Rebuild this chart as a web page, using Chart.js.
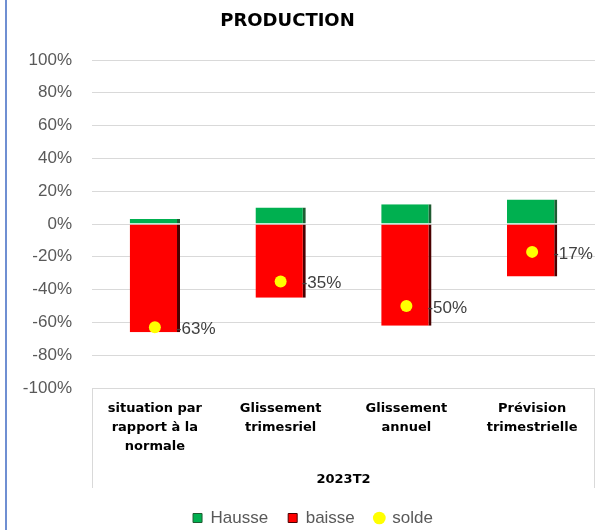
<!DOCTYPE html>
<html>
<head>
<meta charset="utf-8">
<script src="https://cdn.jsdelivr.net/npm/chart.js@4.4.1/dist/chart.umd.min.js"></script>
<style>
  html, body { margin: 0; padding: 0; background: #ffffff; }
  #wrap { position: relative; width: 601px; height: 530px; }
  #edge { position: absolute; left: 5px; top: 0; width: 1.5px; height: 530px; background: #6f8fd2; }
  canvas { position: absolute; left: 0; top: 0; }
</style>
</head>
<body>
<div id="wrap">
  <canvas id="c" width="601" height="530"></canvas>
  <div id="edge"></div>
</div>
<script>
const chartTitle = "PRODUCTION";
const axisTitle = "2023T2";
const categories = [
  ["situation par", "rapport à la", "normale"],
  ["Glissement", "trimesriel"],
  ["Glissement", "annuel"],
  ["Prévision", "trimestrielle"]
];
const seriesNames = ["Hausse", "baisse", "solde"];
const hausse = [3, 10, 12, 15];
const baisse = [-66, -45, -62, -32];
const solde = [-63, -35, -50, -17];
const yTicksMin = -100;
const yTicksMax = 100;
const yTicksStep = 20;

const titlePlugin = {
  id: 'customTitle',
  afterDraw(chart) {
    const ctx = chart.ctx;
    ctx.save();
    ctx.font = 'bold 18px "DejaVu Sans"';
    ctx.fillStyle = '#000000';
    ctx.textAlign = 'center';
    ctx.textBaseline = 'middle';
    ctx.fillText(chartTitle, 287.5, 21);
    ctx.restore();
  }
};

const legendShift = {
  id: 'legendShift',
  afterLayout(chart) {
    if (chart.legend) { chart.legend.left += 30; }
  }
};

const boxPlugin = {
  id: 'catBox',
  afterDraw(chart) {
    const ctx = chart.ctx;
    const a = chart.chartArea;
    ctx.save();
    ctx.strokeStyle = '#d9d9d9';
    ctx.lineWidth = 1;
    ctx.beginPath();
    ctx.moveTo(a.left + 0.5, a.bottom);
    ctx.lineTo(a.left + 0.5, a.bottom + 100);
    ctx.moveTo(a.right - 0.5, a.bottom);
    ctx.lineTo(a.right - 0.5, a.bottom + 100);
    ctx.stroke();
    ctx.restore();
  }
};

const labelPlugin = {
  id: 'soldeLabels',
  afterDatasetsDraw(chart) {
    const ctx = chart.ctx;
    const meta = chart.getDatasetMeta(2);
    ctx.save();
    ctx.font = '17px "Liberation Sans"';
    ctx.fillStyle = '#404040';
    ctx.textAlign = 'left';
    ctx.textBaseline = 'middle';
    meta.data.forEach((pt, i) => {
      ctx.fillText(solde[i] + '%', pt.x + 21, pt.y + 2);
    });
    ctx.restore();
  }
};

new Chart(document.getElementById('c'), {
  type: 'bar',
  data: {
    labels: categories,
    datasets: [
      {
        label: seriesNames[0],
        data: hausse,
        backgroundColor: '#00b050',
        borderColor: '#1f5c32',
        borderWidth: { top: 0, left: 0, bottom: 0, right: 3 },
        borderSkipped: false,
        stack: 'bars',
        categoryPercentage: 1,
        barPercentage: 0.4
      },
      {
        label: seriesNames[1],
        data: baisse,
        backgroundColor: '#ff0000',
        borderColor: '#4a0000',
        borderWidth: { top: 0, left: 0, bottom: 0, right: 3 },
        borderSkipped: false,
        stack: 'bars',
        categoryPercentage: 1,
        barPercentage: 0.4
      },
      {
        type: 'line',
        label: seriesNames[2],
        data: solde,
        showLine: false,
        backgroundColor: '#ffff00',
        borderColor: '#ffff00',
        pointRadius: 6,
        pointBorderWidth: 0,
        pointHoverRadius: 6,
        stack: 'points',
        order: -1
      }
    ]
  },
  options: {
    responsive: false,
    animation: false,
    devicePixelRatio: 1,
    layout: { padding: { left: 0, right: 5, top: 60, bottom: -6.5 } },
    scales: {
      x: {
        stacked: true,
        grid: { display: false, drawTicks: false },
        border: { display: false },
        ticks: {
          color: '#000000',
          font: { family: '"DejaVu Sans"', size: 13, weight: 'bold', lineHeight: 1.45 },
          padding: 11,
          maxRotation: 0,
          autoSkip: false
        },
        title: {
          display: true,
          text: axisTitle,
          color: '#000000',
          font: { family: '"DejaVu Sans"', size: 13, weight: 'bold' },
          padding: { top: 0, bottom: 2 }
        },
        afterFit(scale) { scale.height = 101.5; }
      },
      y: {
        stacked: true,
        min: yTicksMin,
        max: yTicksMax,
        grid: { color: '#d9d9d9', lineWidth: 1, drawTicks: false },
        border: { display: false },
        ticks: {
          stepSize: yTicksStep,
          color: '#595959',
          font: { family: '"Liberation Sans"', size: 17 },
          padding: 20,
          callback: (v) => v + '%'
        },
        afterFit(scale) { scale.width = 92; }
      }
    },
    plugins: {
      title: { display: false },
      tooltip: { enabled: false },
      legend: {
        position: 'bottom',
        labels: {
          color: '#595959',
          font: { family: '"Liberation Sans"', size: 17 },
          usePointStyle: true,
          boxHeight: 9,
          boxWidth: 9,
          padding: 20,
          sort: (a, b) => a.datasetIndex - b.datasetIndex,
          generateLabels(chart) {
            const items = Chart.defaults.plugins.legend.labels.generateLabels(chart);
            items.forEach((it) => {
              if (it.datasetIndex === 0) { it.pointStyle = 'rect'; it.fillStyle = '#00b050'; it.strokeStyle = '#1f5c32'; it.lineWidth = 1; }
              if (it.datasetIndex === 1) { it.pointStyle = 'rect'; it.fillStyle = '#ff0000'; it.strokeStyle = '#4a0000'; it.lineWidth = 1; }
              if (it.datasetIndex === 2) { it.pointStyle = 'circle'; it.fillStyle = '#ffff00'; it.strokeStyle = '#ffff00'; it.lineWidth = 0; }
            });
            return items;
          }
        }
      }
    }
  },
  plugins: [titlePlugin, legendShift, boxPlugin, labelPlugin]
});
</script>
</body>
</html>
